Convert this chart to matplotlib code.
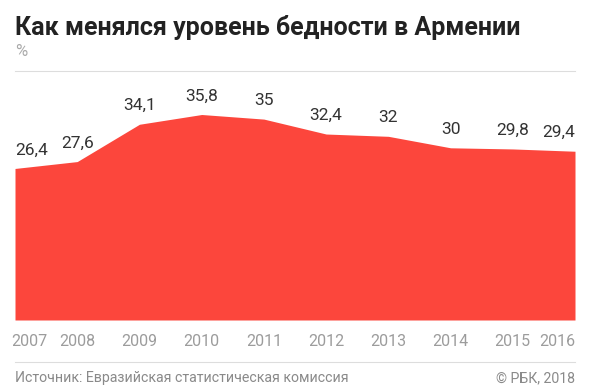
import matplotlib.pyplot as plt

years = ['2007', '2008', '2009', '2010', '2011', '2012', '2013', '2014', '2015', '2016']
poverty = [26.4, 27.6, 34.1, 35.8, 35.0, 32.4, 32.0, 30.0, 29.8, 29.4]
value_labels = ['26,4', '27,6', '34,1', '35,8', '35', '32,4', '32', '30', '29,8', '29,4']

plt.rcParams['font.family'] = ['Roboto', 'DejaVu Sans']

W, H = 590, 392
fig = plt.figure(figsize=(W / 100, H / 100), dpi=100, facecolor='w')

# plot area: x 15..575 px, baseline at y=320 px
ax = fig.add_axes([15 / W, 1 - 320 / H, 560 / W, 240 / H])
x = list(range(len(years)))
ax.fill_between(x, poverty, 0, color='#fc463c', lw=0)
ax.set_xlim(0, len(years) - 1)
ax.set_ylim(0, 240 / 5.74)
ax.axis('off')

for i, (v, lab) in enumerate(zip(poverty, value_labels)):
    ha = 'left' if i == 0 else ('right' if i == len(years) - 1 else 'center')
    ax.annotate(lab, (i, v), xytext=(0, 8), textcoords='offset points',
                ha=ha, va='bottom', fontsize=12.5, color='#333333')

for i, y in enumerate(years):
    xpos = 15 + i * 560 / 9
    ha = 'center'
    if i == 0:
        xpos, ha = 11, 'left'
    elif i == len(years) - 1:
        xpos, ha = 575, 'right'
    fig.text(xpos / W, 1 - 341 / H, y, ha=ha, va='center', fontsize=11.5,
             color='#9c9c9c')

# header
fig.text(15 / W, 1 - 27 / H, 'Как менялся уровень бедности в Армении',
         fontsize=18, fontweight='bold', color='#222222', va='center')
fig.text(15 / W, 1 - 52 / H, '%', fontsize=12, color='#aaaaaa', va='center')
fig.add_artist(plt.Line2D([15 / W, 575 / W], [1 - 71 / H, 1 - 71 / H], color='#dddddd', lw=0.8))

# footer
fig.add_artist(plt.Line2D([15 / W, 575 / W], [1 - 362 / H, 1 - 362 / H], color='#dddddd', lw=0.8))
fig.text(15 / W, 1 - 378 / H, 'Источник: Евразийская статистическая комиссия',
         fontsize=10.2, color='#8a8a8a', va='center')
fig.text(575 / W, 1 - 378 / H, '© РБК, 2018', fontsize=10.2, color='#8a8a8a',
         va='center', ha='right')

fig.savefig('out.png', dpi=100, facecolor='w')
